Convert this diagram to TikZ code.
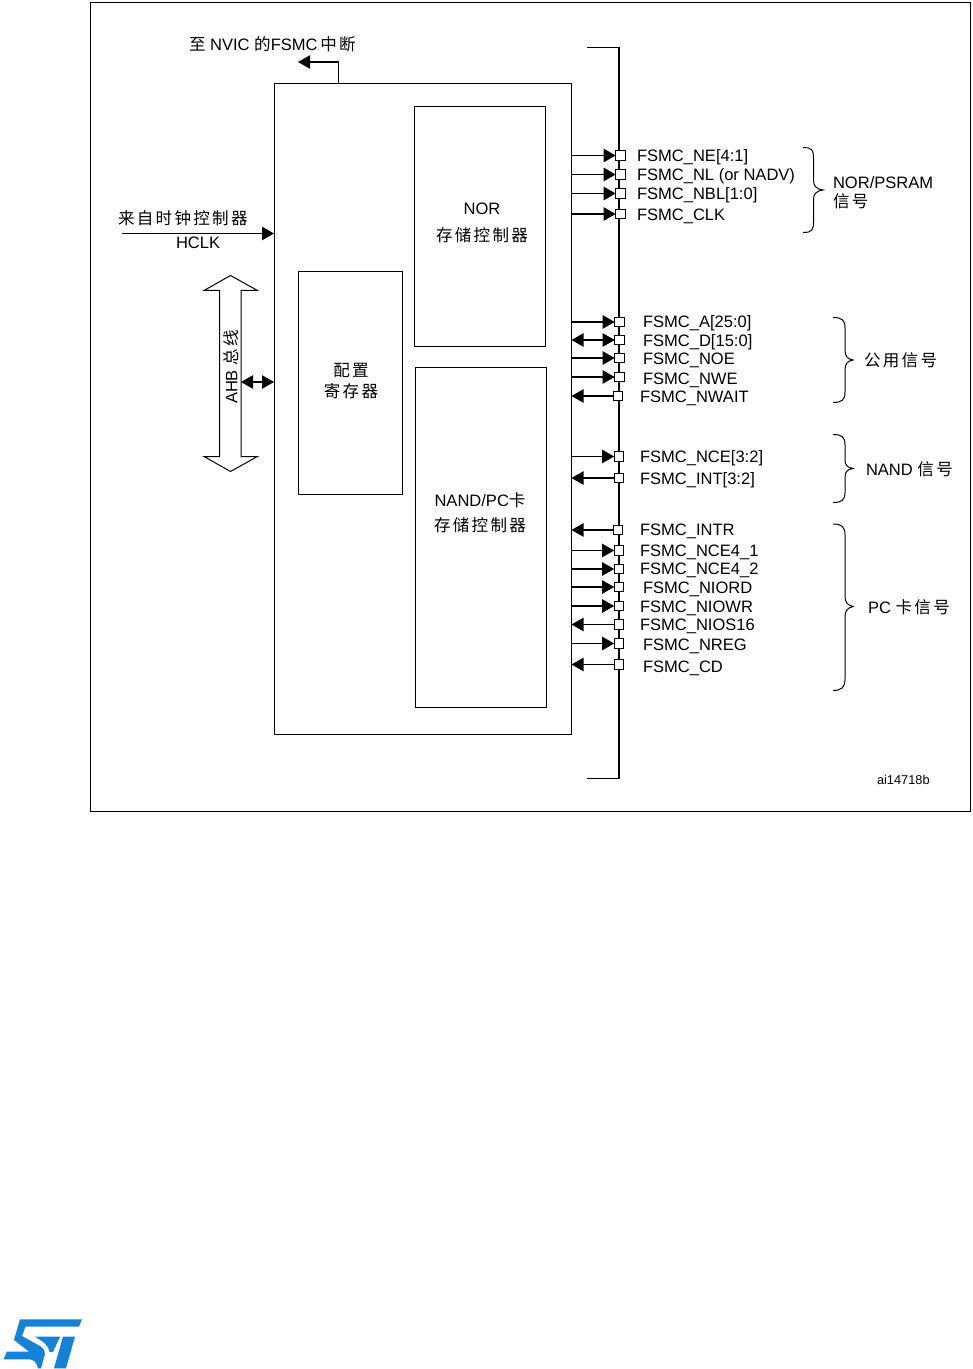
\documentclass[tikz,border=0pt]{standalone}
\usepackage{fontspec}
\setmainfont{Liberation Sans}
\newfontfamily\cjk[LetterSpace=14]{Noto Sans CJK SC}
\usetikzlibrary{arrows.meta}
\definecolor{stblue}{RGB}{20,130,215}
\tikzset{
  lbl/.style={inner sep=0pt,outer sep=0pt,anchor=west,font=\fontsize{12.4pt}{14pt}\selectfont},
  ctr/.style={inner sep=0pt,outer sep=0pt,align=center,font=\fontsize{12.4pt}{16pt}\selectfont},
  box/.style={draw=black,line width=0.75pt,inner sep=0pt,outer sep=0pt,fill=white},
  pad/.style={draw=black,fill=white,line width=0.75pt,minimum size=7.2pt,inner sep=0pt,outer sep=0pt},
  conn/.style={line width=0.9pt},
  arrout/.style={conn,-{Triangle[length=9pt,width=10pt]}},
  arrinp/.style={conn,{Triangle[length=9pt,width=10pt]}-},
  arrbi/.style={conn,{Triangle[length=9pt,width=10pt]}-{Triangle[length=9pt,width=10pt]}},
  brc/.style={line width=0.75pt}
}
\begin{document}
\begin{tikzpicture}[x=0.75pt,y=-0.75pt]
\useasboundingbox (0,0) rectangle (972,1369);
% frame
\node[box,fill=none,anchor=north west,minimum width=880*0.75pt,minimum height=809*0.75pt] (frame) at (90.5,2.5) {};
% main boxes
\node[box,anchor=north west,minimum width=297.5*0.75pt,minimum height=651*0.75pt] (main) at (274,83.5) {};
\node[box,anchor=north west,minimum width=131*0.75pt,minimum height=240*0.75pt] (nor) at (414.5,106.5) {};
\node[box,anchor=north west,minimum width=130.5*0.75pt,minimum height=340.5*0.75pt] (nand) at (415.5,367) {};
\node[box,anchor=north west,minimum width=104*0.75pt,minimum height=223*0.75pt] (cfg) at (298.5,271.5) {};
\node[ctr] (norl) at (482,223) {NOR\\[4pt]{\cjk 存储控制器}};
\node[ctr] (nandl) at (480,513) {NAND/PC{\cjk 卡}\\[3pt]{\cjk 存储控制器}};
\node[ctr] (cfgl) at (351,381) {{\cjk 配置}\\{\cjk 寄存器}};
% bus
\coordinate (bt0) at (587,47.5);
\coordinate (bt) at (619,47.5);
\coordinate (bb) at (619,778.5);
\coordinate (bb0) at (587,778.5);
\draw[conn] (bt0) -- (bt) -- (bb) -- (bb0);
% top interrupt
\node[lbl] (nvic) at (189,44) {{\cjk 至} NVIC {\cjk 的}FSMC\,{\cjk 中断}};
\coordinate (nvA) at (338.5,83.5);
\coordinate (nvB) at (338.5,62);
\coordinate (nvC) at (298,62);
\draw[arrout] (nvA) -- (nvB) -- (nvC);
% clock
\node[lbl] (clk) at (118,218) {{\cjk 来自时钟控制器}};
\node[lbl] (hclk) at (176,243) {HCLK};
\coordinate (clkS) at (122,233.5);
\draw[arrout] (clkS) -- (main.west |- clkS);
% AHB arrow
\coordinate (ahb) at (230.5,373);
\draw[line width=0.75pt,fill=white] (204,290.5) -- (230.5,275.5) -- (257.5,290.5) -- (241,290.5) -- (241,456.5) -- (257.5,456.5) -- (230.5,471.5) -- (204,456.5) -- (219.5,456.5) -- (219.5,290.5) -- cycle;
\node[ctr,rotate=90] (ahbl) at (231,367) {AHB {\cjk 总线}};
\coordinate (ahbR) at (241,382);
\draw[arrbi] (ahbR) -- (main.west |- ahbR);
% signals: name / y / pad x / label x / label y / direction
\foreach \n/\y/\px/\lx/\ly/\dir/\t in {
  a/155.5/620.5/637/157/arrout/{FSMC\_NE[4:1]},
  b/174.5/620.5/637/176/arrout/{FSMC\_NL (or NADV)},
  c/193.5/620.5/637/195.5/arrout/{FSMC\_NBL[1:0]},
  d/214/620.5/637/216/arrout/{FSMC\_CLK},
  e/322/619.5/643/323/arrout/{FSMC\_A[25:0]},
  f/340/619.5/643/342/arrbi/{FSMC\_D[15:0]},
  g/358/619.5/643/360.5/arrout/{FSMC\_NOE},
  h/377/619.5/643/380/arrout/{FSMC\_NWE},
  i/396/618/640/398/arrinp/{FSMC\_NWAIT},
  j/456.5/619/640/458.5/arrout/{FSMC\_NCE[3:2]},
  k/478/619/640/480/arrinp/{FSMC\_INT[3:2]},
  l/530/618/640/531.5/arrinp/{FSMC\_INTR},
  m/550.5/619/640/552/arrout/{FSMC\_NCE4\_1},
  n/569/619/640/570/arrout/{FSMC\_NCE4\_2},
  o/587/619/643/589/arrout/{FSMC\_NIORD},
  p/606/619/640/608/arrout/{FSMC\_NIOWR},
  q/624.5/619/640/626/arrinp/{FSMC\_NIOS16},
  r/643.5/619/643/646.5/arrout/{FSMC\_NREG},
  s/664.5/619/643/668.5/arrinp/{FSMC\_CD}}
{
  \node[pad] (p\n) at (\px,\y) {};
  \node[lbl] (t\n) at (\lx,\ly) {\t};
  \draw[\dir] (main.east |- p\n) -- (p\n);
}
% braces
\draw[brc] (803,147.5) .. controls (812,147.5) and (813.5,150) .. (813.5,158) -- (813.5,180) .. controls (813.5,186) and (816,189) .. (823,190) .. controls (816,191) and (813.5,194) .. (813.5,200) -- (813.5,222) .. controls (813.5,230) and (812,232.5) .. (803,232.5);
\draw[brc] (833,317.5) .. controls (842,317.5) and (845,320) .. (845,328) -- (845,350) .. controls (845,356) and (847,359) .. (853,360) .. controls (847,361) and (845,364) .. (845,370) -- (845,392) .. controls (845,400) and (842,402.5) .. (833,402.5);
\draw[brc] (833,434.5) .. controls (842,434.5) and (845,437) .. (845,445) -- (845,460) .. controls (845,465) and (847,467.5) .. (853,468.5) .. controls (847,469.5) and (845,472) .. (845,477) -- (845,492) .. controls (845,500) and (842,502.5) .. (833,502.5);
\draw[brc] (833,524) .. controls (842,524) and (845,527) .. (845,535) -- (845,596) .. controls (845,602) and (847,605) .. (853,606.5) .. controls (847,608) and (845,611) .. (845,617) -- (845,679) .. controls (845,687) and (842,690.5) .. (833,690.5);
\node[lbl,align=left] (g1) at (833,193) {NOR/PSRAM\\{\cjk 信号}};
\node[lbl] (g2) at (864,360) {{\cjk 公用信号}};
\node[lbl] (g3) at (866,469) {NAND {\cjk 信号}};
\node[lbl] (g4) at (868,607) {PC {\cjk 卡信号}};
\node[lbl,font=\fontsize{9.6pt}{11pt}\selectfont] (fig) at (877,780) {ai14718b};
% logo
\fill[stblue] (20,1319.3) -- (82,1319.3) -- (79,1326.7) -- (25.5,1326.7) -- (22,1336) -- (40,1346) .. controls (44,1349) and (45.5,1351) .. (45,1354) -- (41,1368.3) -- (38,1368.3) .. controls (37,1362) and (33,1359.3) .. (29,1359.3) -- (3.5,1359.3) -- (7,1351.5) -- (29,1351.5) -- (14,1340) -- cycle;
\fill[stblue] (63,1336.7) -- (75,1336.7) -- (66,1368.3) -- (54,1368.3) -- cycle;
\fill[stblue] (35,1336.7) -- (60,1336.7) -- (53,1352) -- (49.5,1352) .. controls (49,1346) and (44,1342) .. (35,1336.7) -- cycle;
\end{tikzpicture}
\end{document}
